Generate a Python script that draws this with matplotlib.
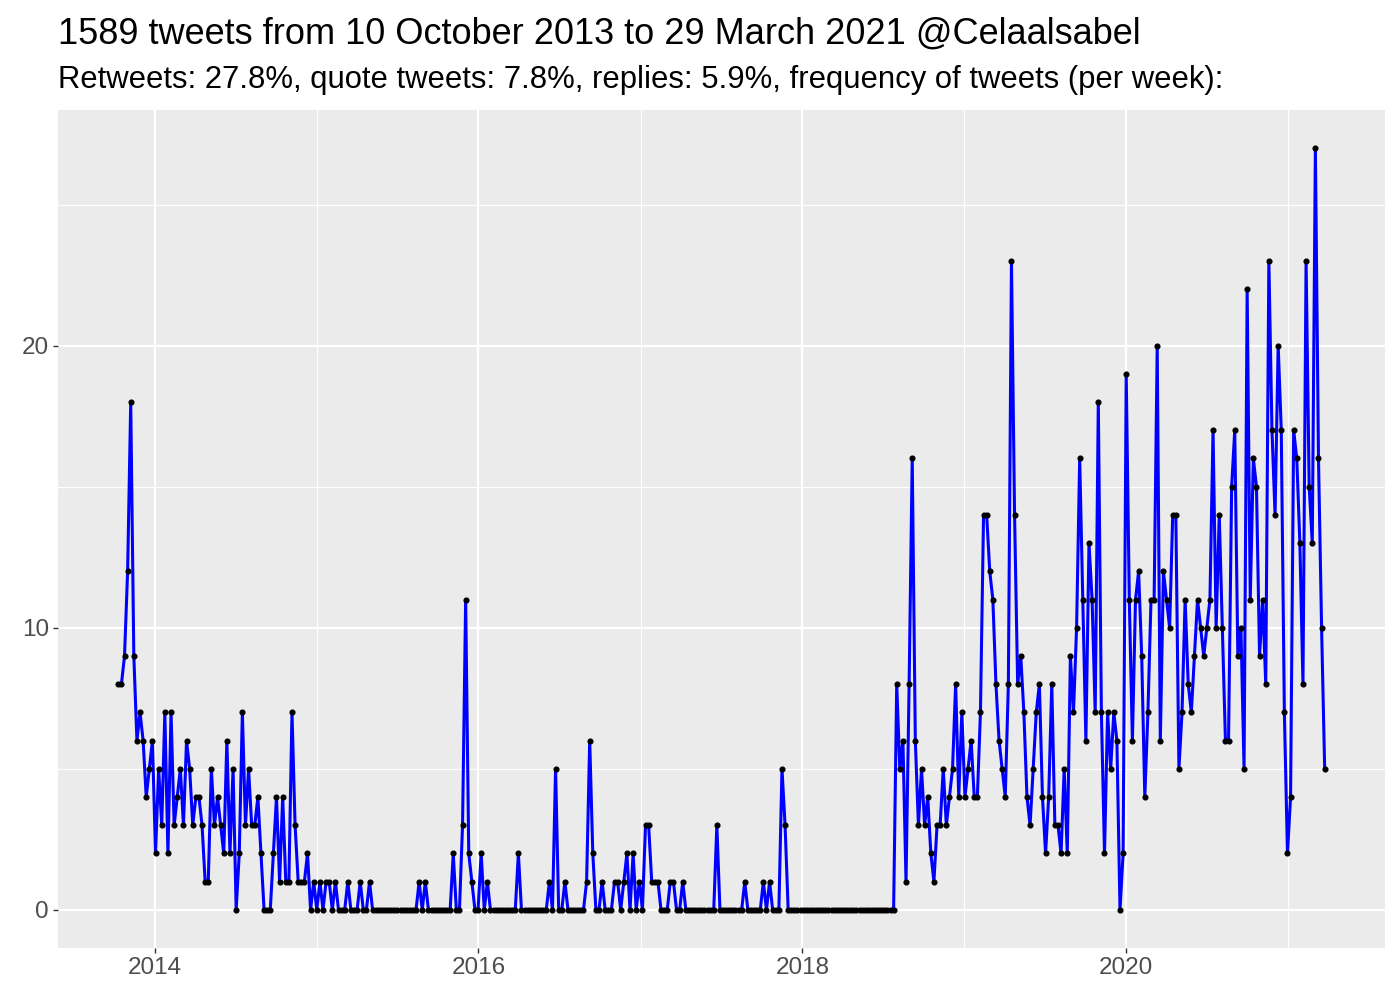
import matplotlib
matplotlib.use("Agg")
import matplotlib.pyplot as plt
import matplotlib.dates as mdates
import pandas as pd
import numpy as np

title = "1589 tweets from 10 October 2013 to 29 March 2021 @Celaalsabel"
subtitle = "Retweets: 27.8%, quote tweets: 7.8%, replies: 5.9%, frequency of tweets (per week):"

start_date = "2013-10-10"

tweets_per_week = [
    8, 8, 9, 12, 18, 9, 6, 7, 6, 4,
    5, 6, 2, 5, 3, 7, 2, 7, 3, 4,
    5, 3, 6, 5, 3, 4, 4, 3, 1, 1,
    5, 3, 4, 3, 2, 6, 2, 5, 0, 2,
    7, 3, 5, 3, 3, 4, 2, 0, 0, 0,
    2, 4, 1, 4, 1, 1, 7, 3, 1, 1,
    1, 2, 0, 1, 0, 1, 0, 1, 1, 0,
    1, 0, 0, 0, 1, 0,
    # 76-
    0, 0, 1, 0, 0, 1,
    0, 0, 0, 0, 0, 0, 0, 0, 0, 0, 0, 0, 0, 0, 0,
    1, 0, 1,
    0, 0, 0, 0, 0, 0, 0, 0,
    2, 0, 0, 3, 11, 2, 1, 0, 0, 2, 0, 1,
    0, 0, 0, 0, 0, 0, 0, 0, 0,
    2,
    0, 0, 0, 0, 0, 0, 0, 0, 0,
    1, 0, 5, 0, 0, 1,
    0, 0, 0, 0, 0, 0,
    1, 6, 2, 0, 0, 1, 0, 0, 0, 1, 1, 0, 1, 2, 0, 2, 0, 1, 0, 3, 3, 1, 1, 1,
    # 175-
    0, 0, 0, 1, 1, 0, 0, 1,
    0, 0, 0, 0, 0, 0, 0, 0, 0, 0,
    3,
    0, 0, 0, 0, 0, 0, 0, 0,
    1, 0, 0, 0, 0, 0, 1, 0, 1, 0, 0, 0, 5, 3,
    # 216-250 zeros
    0, 0, 0, 0, 0, 0, 0, 0, 0, 0,
    0, 0, 0, 0, 0, 0, 0, 0, 0, 0,
    0, 0, 0, 0, 0, 0, 0, 0, 0, 0,
    0, 0, 0, 0, 0,
    # 251-
    8, 5, 6, 1, 8, 16, 6, 3, 5, 3,
    4, 2, 1, 3, 3, 5, 3, 4, 5, 8,
    4, 7, 4, 5, 6, 4, 4, 7, 14, 14,
    12, 11, 8, 6, 5, 4, 8, 23, 14, 8,
    9, 7, 4, 3, 5, 7, 8, 4, 2, 4,
    8, 3, 3, 2, 5, 2, 9, 7, 10, 16,
    11, 6, 13, 11, 7, 18, 7, 2, 7, 5,
    7, 6, 0, 2, 19, 11, 6, 11, 12, 9,
    4, 7, 11, 11, 20, 6, 12, 11, 10, 14,
    14, 5, 7, 11, 8, 7, 9, 11, 10, 9,
    10, 11, 17, 10, 14, 10, 6, 6, 15, 17,
    9, 10, 5, 22, 11, 16, 15, 9, 11, 8,
    23, 17, 14, 20, 17, 7, 2, 4, 17, 16,
    13, 8, 23, 15, 13, 27, 16, 10, 5,
]

dates = pd.date_range(start=start_date, periods=len(tweets_per_week), freq="7D")

year_ticks = [2014, 2016, 2018, 2020]
minor_years = [2015, 2017, 2019, 2021]
y_ticks = [0, 10, 20]
y_minor = [5, 15, 25]

FONT = "Liberation Sans"
plt.rcParams["font.family"] = [FONT, "DejaVu Sans"]

fig = plt.figure(figsize=(14, 10), dpi=100)
ax = fig.add_axes([58 / 1400, 1 - 948 / 1000, (1385 - 58) / 1400, (948 - 110) / 1000])
ax.set_facecolor("#EBEBEB")
for s in ax.spines.values():
    s.set_visible(False)

xn = mdates.date2num(dates)
ax.plot(xn, tweets_per_week, color="#0000FF", lw=2.2, zorder=3, solid_joinstyle="round")
ax.plot(xn, tweets_per_week, ls="none", marker="o", ms=3.4, color="black", zorder=4)

major_x = [mdates.date2num(pd.Timestamp(f"{y}-01-01")) for y in year_ticks]
minor_x = [mdates.date2num(pd.Timestamp(f"{y}-01-01")) for y in minor_years]
ax.set_xticks(major_x)
ax.set_xticklabels([str(y) for y in year_ticks])
ax.set_xticks(minor_x, minor=True)
ax.set_yticks(y_ticks)
ax.set_yticklabels([str(v) for v in y_ticks])
ax.set_yticks(y_minor, minor=True)

# limits with ggplot-style 5% expansion (set after ticks)
rng = xn[-1] - xn[0]
ax.set_xlim(xn[0] - 0.05 * rng, xn[-1] + 0.05 * rng)
ymax = max(tweets_per_week)
ax.set_ylim(-0.05 * ymax, ymax * 1.05)

ax.grid(which="major", color="white", lw=1.6)
ax.grid(which="minor", color="white", lw=0.8)
ax.set_axisbelow(True)

ax.tick_params(which="major", length=3.5, width=1.0, color="#333333",
               labelsize=17.5, labelcolor="#4D4D4D", pad=3)
ax.tick_params(which="minor", length=0)

fig.text(58 / 1400, 1 - 44 / 1000, title, fontsize=26, color="black",
         ha="left", va="baseline")
fig.text(58 / 1400, 1 - 88 / 1000, subtitle, fontsize=22.3, color="black",
         ha="left", va="baseline")

fig.savefig("out.png", dpi=100, facecolor="white")
